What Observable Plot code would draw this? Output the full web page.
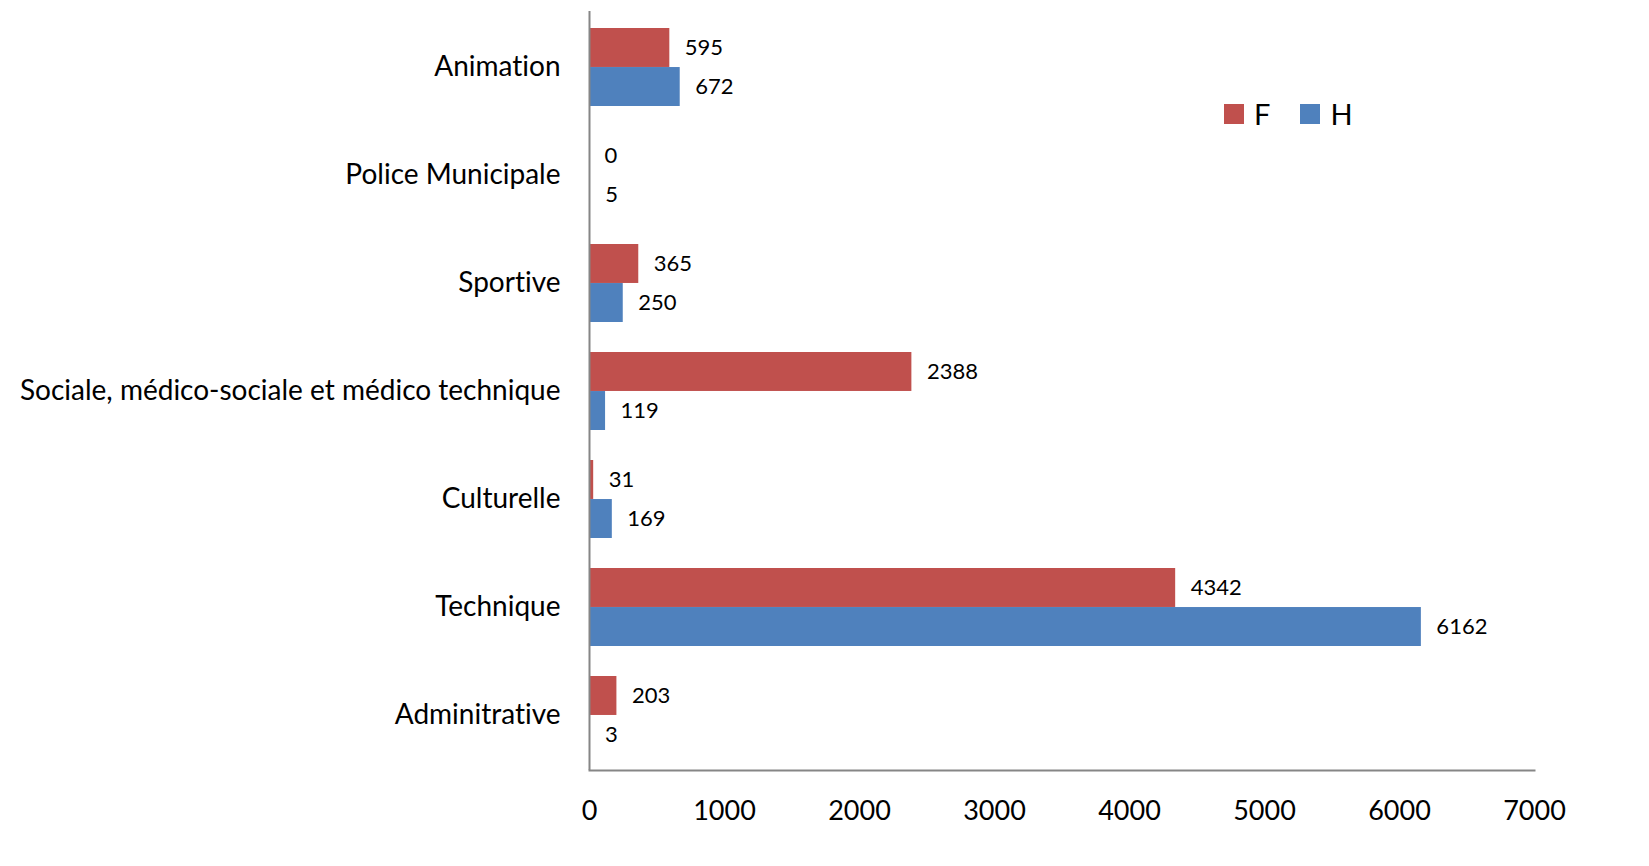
<!DOCTYPE html>
<html>
<head>
<meta charset="utf-8">
<script src="https://cdn.jsdelivr.net/npm/d3@7"></script>
<script src="https://cdn.jsdelivr.net/npm/@observablehq/plot@0.6"></script>
<style>
  body { margin: 0; background: #fff; }
  #wrap { position: relative; width: 1649px; height: 866px; font-family: Lato, "Open Sans", sans-serif; font-variant-ligatures: none; }
  #wrap svg text { font-variant-ligatures: none; }
  #legend { position: absolute; left: 1224px; top: 96px; display: flex; align-items: center; font-size: 29px; color: #000; }
  #legend .sw { display: inline-block; width: 20px; height: 20px; margin-right: 10px; }
  #legend .it { display: flex; align-items: center; margin-right: 30px; }
</style>
</head>
<body>
<div id="wrap"></div>
<script>
const categories = ["Animation", "Police Municipale", "Sportive", "Sociale, médico-sociale et médico technique", "Culturelle", "Technique", "Adminitrative"];
const valuesF = [595, 0, 365, 2388, 31, 4342, 203];
const valuesH = [672, 5, 250, 119, 169, 6162, 3];
const series = ["F", "H"];
const colors = ["#C0504D", "#4F81BD"];
const xTicks = [0, 1000, 2000, 3000, 4000, 5000, 6000, 7000];

const rows = [];
categories.forEach((c, i) => {
  rows.push({category: c, series: "F", value: valuesF[i]});
  rows.push({category: c, series: "H", value: valuesH[i]});
});
const rowsF = rows.filter(d => d.series === "F");
const rowsH = rows.filter(d => d.series === "H");

const marginTop = 11, marginBottom = 96, height = 866;
const pIn = 0.28, pOut = 0.14;
const step = (height - marginTop - marginBottom) / (categories.length - pIn + 2 * pOut);
const bw = step * (1 - pIn);
const half = bw / 2;

const plot = Plot.plot({
  width: 1649,
  height,
  marginLeft: 589,
  marginRight: 115,
  marginTop,
  marginBottom,
  style: {fontFamily: "Lato, 'Open Sans', sans-serif", background: "#fff"},
  x: {domain: [0, 7000], ticks: xTicks, tickSize: 0, label: null},
  y: {domain: categories, paddingInner: pIn, paddingOuter: pOut, tickSize: 0, label: null},
  color: {domain: series, range: colors},
  marks: [
    Plot.barX(rowsF, {y: "category", x: "value", fill: colors[0], insetBottom: half, insetTop: 0}),
    Plot.barX(rowsH, {y: "category", x: "value", fill: colors[1], insetTop: half, insetBottom: 0}),
    Plot.text(rowsF, {y: "category", x: "value", text: d => String(d.value), dx: 15, dy: -half / 2, textAnchor: "start", fontSize: 22, fill: "#000"}),
    Plot.text(rowsH, {y: "category", x: "value", text: d => String(d.value), dx: 15, dy: half / 2, textAnchor: "start", fontSize: 22, fill: "#000"}),
    Plot.ruleX([0], {stroke: "#868686", strokeWidth: 2}),
    Plot.frame({anchor: "bottom", stroke: "#868686", strokeWidth: 2}),
    Plot.axisX({ticks: xTicks, tickSize: 0, tickPadding: 30, fontSize: 27, label: null, tickFormat: d => String(d), fill: "#000"}),
    Plot.axisY({tickSize: 0, tickPadding: 29, fontSize: 28, label: null, fill: "#000"})
  ]
});

const wrap = document.getElementById("wrap");
wrap.appendChild(plot);

const legend = document.createElement("div");
legend.id = "legend";
series.forEach((s, i) => {
  const it = document.createElement("span");
  it.className = "it";
  const sw = document.createElement("span");
  sw.className = "sw";
  sw.style.background = colors[i];
  it.appendChild(sw);
  it.appendChild(document.createTextNode(s));
  legend.appendChild(it);
});
wrap.appendChild(legend);
</script>
</body>
</html>
